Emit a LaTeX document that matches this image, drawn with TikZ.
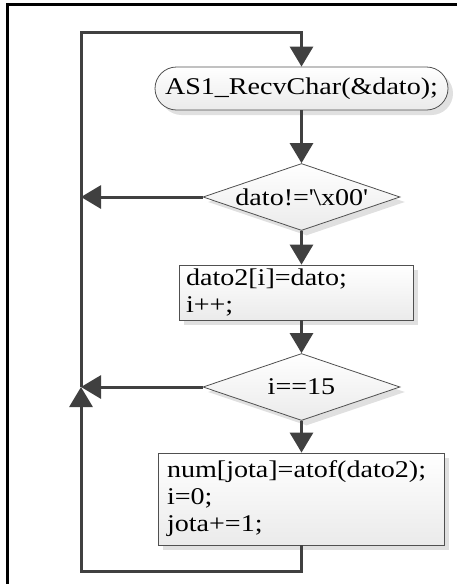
\documentclass[tikz,border=0pt]{standalone}
\usepackage{fontspec}
\setmainfont{Liberation Serif}[FakeStretch=1.17]
\usetikzlibrary{shapes.geometric,shapes.misc,shadows,arrows.meta}
\definecolor{ln}{HTML}{404040}
\definecolor{bd}{HTML}{505050}
\definecolor{shd}{HTML}{E0E0E0}
\begin{document}
\begin{tikzpicture}[x=1pt,y=-1pt,
  every node/.style={font=\fontsize{24}{27}\selectfont},
  shp/.style={draw=bd, line width=0.8pt, top color=white, bottom color=black!8,
    drop shadow={shadow xshift=5pt, shadow yshift=-5pt, fill=shd, opacity=1}},
  termbox/.style={shp, rounded rectangle, minimum width=293pt, minimum height=43pt, inner sep=0pt},
  decbox/.style={shp, diamond, aspect=1, minimum width=197pt, minimum height=67pt, inner sep=0pt},
  procbox/.style={shp, rectangle, align=left, inner ysep=0pt},
  flow/.style={draw=ln, line width=3pt, -{Triangle[length=20pt,width=23pt]}},
  flowline/.style={draw=ln, line width=3pt}
]
\useasboundingbox (0,0) rectangle (456,584);
\draw[line width=3pt, black] (7,600) -- (7,4) -- (470,4);

\node[termbox] (t) at (301.5,88.5) {AS1\_RecvChar(\&dato);};
\node[decbox] (d1) at (301.5,197) {\makebox[0pt]{dato!=\textquotesingle\textbackslash x00\textquotesingle}};
\node[procbox, minimum width=234pt, minimum height=55pt, text width=220pt, inner xsep=7pt] (b1) at (296,292.5) {dato2[i]=dato;\\i++;};
\node[decbox] (d2) at (301.5,387) {\makebox[0pt]{i==15}};
\node[procbox, minimum width=286pt, minimum height=92pt, text width=268pt, inner xsep=9pt] (b3) at (301,499) {num[jota]=atof(dato2);\\i=0;\\jota+=1;};

\coordinate (j1) at (81,197);
\coordinate (j2) at (81,387);
\coordinate (cb) at (81,571);
\coordinate (ct) at (81,32);

\draw[flow] (t.south) -- (d1.north);
\draw[flow] (d1.south) -- (d1.south |- b1.north);
\draw[flow] (d2.north |- b1.south) -- (d2.north);
\draw[flow] (d2.south) -- (d2.south |- b3.north);
\draw[flow] (d1.west) -- (j1);
\draw[flow] (d2.west) -- (j2);
\draw[flow] (b3.south) |- (cb) -- (j2);
\draw[flow] (j2) -- (ct) -| (t.north);
\end{tikzpicture}
\end{document}
